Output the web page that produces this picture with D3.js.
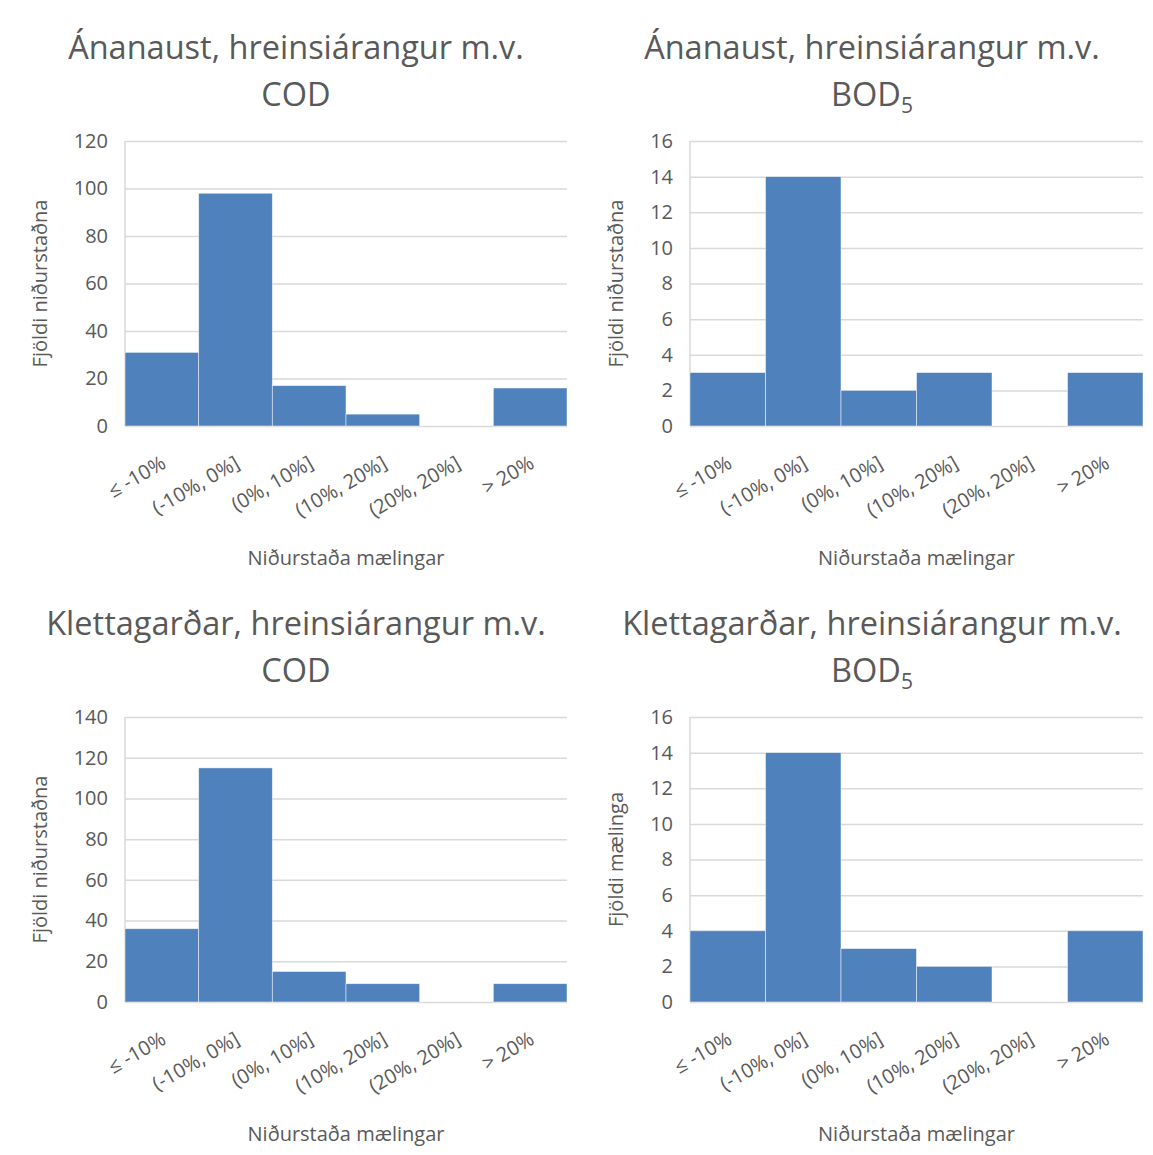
<!DOCTYPE html>
<html>
<head>
<meta charset="utf-8">
<script src="https://cdn.jsdelivr.net/npm/d3@7"></script>
<style>
  body { margin: 0; background: #fff; }
  text { font-family: "Open Sans", sans-serif; fill: #595959; }
</style>
</head>
<body>
<svg id="chart" width="1153" height="1155"></svg>
<script>
// bins on the x axis
const categories = ['≤ -10%', '(-10%, 0%]', '(0%, 10%]', '(10%, 20%]', '(20%, 20%]', '> 20%']

// counts per bin
const ananaustCOD = [31, 98, 17, 5, 0, 16]
const ananaustBOD = [3, 14, 2, 3, 0, 3]
const klettagardarCOD = [36, 115, 15, 9, 0, 9]
const klettagardarBOD = [4, 14, 3, 2, 0, 4]

// y tick labels
const ticksCOD1 = [0, 20, 40, 60, 80, 100, 120]
const ticksCOD2 = [0, 20, 40, 60, 80, 100, 120, 140]
const ticksBOD = [0, 2, 4, 6, 8, 10, 12, 14, 16]

const panels = [
  { place: 'Ánanaust', param: 'COD', sub: '', values: ananaustCOD, ticks: ticksCOD1, yLabel: 'Fjöldi niðurstaðna', x0: 0, y0: 0, left: 125 },
  { place: 'Ánanaust', param: 'BOD', sub: '5', values: ananaustBOD, ticks: ticksBOD, yLabel: 'Fjöldi niðurstaðna', x0: 576, y0: 0, left: 114 },
  { place: 'Klettagarðar', param: 'COD', sub: '', values: klettagardarCOD, ticks: ticksCOD2, yLabel: 'Fjöldi niðurstaðna', x0: 0, y0: 576, left: 125 },
  { place: 'Klettagarðar', param: 'BOD', sub: '5', values: klettagardarBOD, ticks: ticksBOD, yLabel: 'Fjöldi mælinga', x0: 576, y0: 576, left: 114 }
]

const svg = d3.select('#chart')
const plotTop = 141
const plotBottom = 426
const plotRight = 567

panels.forEach(p => {
  const g = svg.append('g').attr('transform', `translate(${p.x0}, ${p.y0})`)

  const x = d3.scaleBand().domain(categories).range([p.left, plotRight]).padding(0)
  const y = d3.scaleLinear().domain([0, d3.max(p.ticks)]).range([plotBottom, plotTop])

  // gridlines
  const grid = g
    .append('g')
    .attr('transform', `translate(${p.left}, 0)`)
    .call(d3.axisLeft(y).tickValues(p.ticks).tickSize(-(plotRight - p.left)).tickFormat(''))
  grid.select('.domain').remove()
  grid.selectAll('line').attr('stroke', '#d9d9d9').attr('stroke-width', 1.5)

  g.append('line')
    .attr('x1', p.left)
    .attr('x2', p.left)
    .attr('y1', plotTop)
    .attr('y2', plotBottom)
    .attr('stroke', '#d9d9d9')
    .attr('stroke-width', 1.5)

  // bars
  g.selectAll('.bar')
    .data(p.values)
    .enter()
    .append('rect')
    .attr('class', 'bar')
    .attr('x', (d, i) => x(categories[i]))
    .attr('y', d => y(d))
    .attr('width', x.bandwidth())
    .attr('height', d => plotBottom - y(d))
    .attr('fill', '#4f81bd')
    .attr('stroke', '#ffffff')
    .attr('stroke-opacity', 0.6)
    .attr('stroke-width', 0.8)

  // y axis labels
  const ya = g
    .append('g')
    .attr('transform', `translate(${p.left}, 0)`)
    .call(d3.axisLeft(y).tickValues(p.ticks).tickSize(0).tickPadding(17))
  ya.attr('font-family', null)
  ya.select('.domain').remove()
  ya.selectAll('text').attr('font-size', 20).attr('fill', '#595959')

  // x axis labels, rotated
  const xa = g
    .append('g')
    .attr('transform', `translate(0, ${plotBottom})`)
    .call(d3.axisBottom(x).tickSize(0))
  xa.attr('font-family', null)
  xa.select('.domain').remove()
  xa.selectAll('text')
    .attr('font-size', 20)
    .attr('fill', '#595959')
    .attr('text-anchor', 'end')
    .attr('x', 0)
    .attr('y', 0)
    .attr('dy', '0.75em')
    .attr('transform', 'translate(-2, 28) rotate(-30)')

  // axis titles
  g.append('text')
    .attr('transform', `translate(40, ${(plotTop + plotBottom) / 2}) rotate(-90)`)
    .attr('text-anchor', 'middle')
    .attr('dy', '0.35em')
    .attr('font-size', 20)
    .text(p.yLabel)

  g.append('text')
    .attr('x', (p.left + plotRight) / 2)
    .attr('y', 565)
    .attr('text-anchor', 'middle')
    .attr('font-size', 20)
    .text('Niðurstaða mælingar')

  // chart title
  const title = g.append('text').attr('text-anchor', 'middle').attr('font-size', 32.5)
  title
    .append('tspan')
    .attr('x', 296)
    .attr('y', 59)
    .text(`${p.place}, hreinsiárangur m.v.`)
  const line2 = title.append('tspan').attr('x', 296).attr('y', 106)
  line2.append('tspan').text(p.param)
  if (p.sub) {
    line2
      .append('tspan')
      .attr('font-size', 21)
      .attr('dy', 7)
      .text(p.sub)
  }
})
</script>
</body>
</html>
